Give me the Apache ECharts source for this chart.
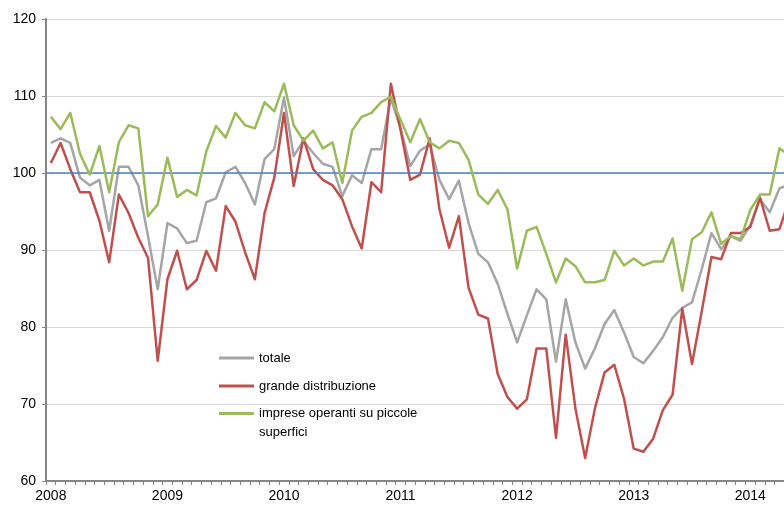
<!DOCTYPE html>
<html>
<head>
<meta charset="utf-8">
<script src="https://cdn.jsdelivr.net/npm/echarts@6/dist/echarts.min.js"></script>
<style>
    html, body { margin: 0; padding: 0; background: #fff; }
    #chart { width: 784px; height: 507px; }
</style>
</head>
<body>
<div id="chart"></div>
<script>
// monthly index, Jan 2008 .. May 2014
var years = ["2008", "2009", "2010", "2011", "2012", "2013", "2014"];
var lastYearMonths = 5;

var totale = [
    103.9, 104.5, 103.9, 99.4, 98.4, 99.1, 92.5, 100.8, 100.8, 98.4, 91.8, 84.9,
    93.5, 92.8, 90.9, 91.2, 96.2, 96.7, 100.1, 100.8, 98.7, 95.9, 101.8, 103.1,
    109.8, 102.2, 104.2, 102.6, 101.2, 100.8, 97.0, 99.7, 98.7, 103.1, 103.1, 109.7,
    105.8, 100.9, 102.9, 103.7, 99.1, 96.6, 99.0, 93.5, 89.5, 88.4, 85.6, 81.7,
    78.0, 81.5, 84.9, 83.6, 75.5, 83.6, 78.0, 74.6, 77.2, 80.4, 82.2, 79.3,
    76.1, 75.3, 76.9, 78.7, 81.2, 82.5, 83.2, 87.5, 92.2, 90.1, 91.8, 91.2,
    93.2, 96.6, 94.9, 98.0, 98.5
];
var grandeDistribuzione = [
    101.3, 103.9, 100.5, 97.5, 97.5, 93.8, 88.4, 97.2, 94.8, 91.6, 89.0, 75.6,
    86.2, 89.9, 84.9, 86.1, 89.9, 87.3, 95.7, 93.7, 89.7, 86.2, 94.8, 99.4,
    107.8, 98.3, 104.5, 100.5, 99.1, 98.4, 96.6, 93.1, 90.2, 98.8, 97.5, 111.6,
    105.6, 99.1, 99.8, 104.5, 95.3, 90.3, 94.4, 85.1, 81.6, 81.1, 73.9, 70.9,
    69.4, 70.6, 77.2, 77.2, 65.6, 79.0, 69.4, 63.0, 69.4, 74.1, 75.1, 70.7,
    64.2, 63.8, 65.5, 69.2, 71.2, 82.4, 75.2, 82.0, 89.1, 88.8, 92.2, 92.2,
    93.0, 96.8, 92.5, 92.7, 96.5
];
var piccoleSuperfici = [
    107.3, 105.7, 107.8, 102.5, 99.8, 103.5, 97.5, 104.0, 106.2, 105.8, 94.4, 95.9,
    102.0, 96.9, 97.8, 97.1, 102.8, 106.1, 104.6, 107.8, 106.2, 105.8, 109.2, 108.0,
    111.6, 106.2, 104.2, 105.5, 103.2, 104.0, 98.7, 105.5, 107.3, 107.8, 109.2, 109.9,
    106.9, 104.0, 107.0, 104.0, 103.2, 104.2, 103.9, 101.7, 97.2, 96.0, 97.8, 95.3,
    87.6, 92.5, 93.0, 89.5, 85.8, 88.9, 87.9, 85.8, 85.8, 86.1, 89.9, 88.0,
    88.9, 88.0, 88.5, 88.5, 91.5, 84.7, 91.4, 92.3, 94.9, 90.8, 91.8, 91.4,
    95.2, 97.2, 97.2, 103.2, 102.3
];
var seriesNames = ["totale", "grande distribuzione", "imprese operanti su piccole superfici"];
var seriesColors = ["#a5a5a5", "#c0504d", "#9bbb59"];
var baseLevel = 100;

var categories = [];
years.forEach(function (y, k) {
    var n = (k === years.length - 1) ? lastYearMonths : 12;
    for (var m = 1; m <= n; m++) {
        categories.push(y + "-" + (m < 10 ? "0" + m : m));
    }
});

var axisGray = "#868686";
var font = "Liberation Sans, Arial, sans-serif";

function makeSeries(idx, values) {
    return {
        name: seriesNames[idx],
        type: "line",
        data: values,
        symbol: "none",
        lineStyle: { color: seriesColors[idx], width: 2.5, join: "round" },
        itemStyle: { color: seriesColors[idx] },
        z: 3 + idx
    };
}

var series = [
    makeSeries(0, totale),
    makeSeries(1, grandeDistribuzione),
    makeSeries(2, piccoleSuperfici)
];
series[0].markLine = {
    silent: true,
    symbol: "none",
    label: { show: false },
    lineStyle: { color: "#4f81bd", width: 1.5, type: "solid" },
    data: [{ yAxis: baseLevel }]
};

var legendBase = {
    orient: "vertical",
    left: 214,
    icon: "rect",
    itemWidth: 35,
    itemHeight: 3,
    itemGap: 12,
    textStyle: { color: "#000", fontSize: 13, fontFamily: font, lineHeight: 16 }
};

var chart = echarts.init(document.getElementById("chart"));
chart.setOption({
    animation: false,
    backgroundColor: "#fff",
    grid: {
        left: 46,
        top: 19,
        bottom: 26,
        width: 748,
        containLabel: false,
        outerBoundsMode: "none"
    },
    legend: [
        Object.assign({}, legendBase, {
            top: 345,
            data: [seriesNames[0], seriesNames[1]]
        }),
        // long label wraps; a blank first line keeps the icon on the first text line
        Object.assign({}, legendBase, {
            top: 380,
            data: [seriesNames[2]],
            textStyle: { color: "#000", fontSize: 13, fontFamily: font, lineHeight: 19 },
            formatter: function (name) {
                return " \n" + name.replace(" superfici", "\nsuperfici");
            }
        })
    ],
    xAxis: {
        type: "category",
        data: categories,
        boundaryGap: true,
        axisLine: { lineStyle: { color: axisGray, width: 2 } },
        axisTick: { show: true, interval: 0, length: 4, lineStyle: { color: axisGray, width: 1 } },
        axisLabel: {
            interval: 0,
            color: "#000",
            fontSize: 14,
            fontFamily: font,
            margin: 8,
            formatter: function (value) {
                return value.slice(5) === "01" ? value.slice(0, 4) : "";
            }
        },
        splitLine: { show: false }
    },
    yAxis: {
        type: "value",
        min: 60,
        max: 120,
        interval: 10,
        axisLine: { show: true, lineStyle: { color: axisGray, width: 2 } },
        axisTick: { show: true, length: 4, lineStyle: { color: axisGray } },
        axisLabel: { color: "#000", fontSize: 14, fontFamily: font, margin: 10 },
        splitLine: { lineStyle: { color: "#d9d9d9", width: 1 } }
    },
    series: series
});
</script>
</body>
</html>
